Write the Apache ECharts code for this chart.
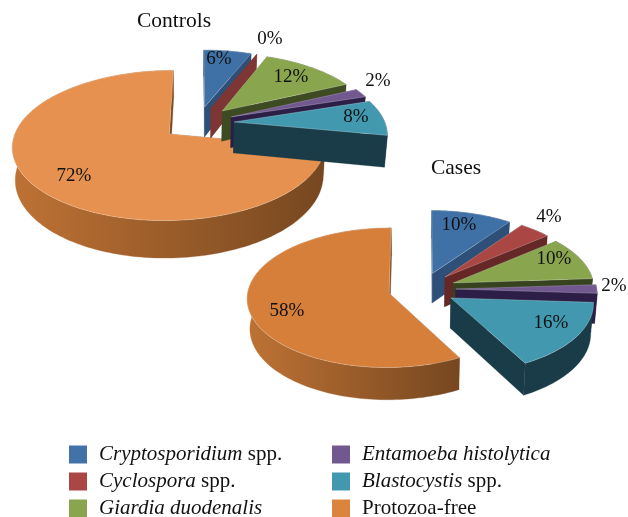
<!DOCTYPE html>
<html>
<head>
<meta charset="utf-8">
<style>
  html, body { margin: 0; padding: 0; background: #fff; }
  #chart { width: 628px; height: 517px; }
</style>
<script src="https://cdn.jsdelivr.net/npm/echarts@6/dist/echarts.min.js"></script>
</head>
<body>
<div id="chart"></div>
<script>
const speciesNames = ['Cryptosporidium spp.', 'Cyclospora spp.', 'Giardia duodenalis', 'Entamoeba histolytica', 'Blastocystis spp.', 'Protozoa-free'];
const pieNames = ['Controls', 'Cases'];
const controlsValues = [6, 0, 12, 2, 8, 72];
const casesValues = [10, 4, 10, 2, 16, 58];
const pieValues = [controlsValues, casesValues];

const legendColors = ['#4272a8', '#aa4644', '#89a54e', '#71588f', '#4198af', '#db843d'];
const topColors = [
  ['#3f71a6', '#aa4644', '#89a54e', '#71588f', '#4198af', '#e6914f'],
  ['#3f71a6', '#aa4644', '#89a54e', '#71588f', '#4198af', '#d67f3a'],
];
const sideColors = [
  ['#2d4f78', '#7e3634', '#3e4b22', '#2c1e47', '#1a3c48', '#7a4a20'],
  ['#2d4f78', '#662826', '#37431f', '#2c1e47', '#1a3c48', '#7a4a20'],
];

// projection of each pie: centre, radii, depth perspective, thickness, explosion
const pieShapes = [
  { cx: 198, cy: 123, rx: 151, ry: 70, k: 0.15, h: 31, e: 0.24 },
  { cx: 422, cy: 289, rx: 141, ry: 69, k: 0.065, h: 30, e: 0.24 },
];
const labelSpots = [
  [[219, 59], [270, 39], [291, 77], [378, 81], [356, 117], [74, 176]],
  [[459, 225], [549, 217], [554, 259], [614, 286], [551, 323], [287, 311]],
];
const titleSpots = [[174, 21], [456, 168]];

const serif = '"Liberation Serif", serif';
const deg = Math.PI / 180;

function project(s, x, y, z) {
  const w = 1 + s.k * y;
  const shrink = 1 - 0.016 * z;
  return [s.cx + s.rx * x * shrink / w, s.cy + (-s.ry * y + s.h * z) / w];
}

function sliceRange(values, i) {
  const total = values.reduce((a, b) => a + b, 0);
  const before = values.slice(0, i).reduce((a, b) => a + b, 0);
  return [before / total * 360, (before + values[i]) / total * 360];
}

function renderSlice(params) {
  const pie = params.dataIndex;
  const i = params.seriesIndex;
  const s = pieShapes[pie];
  const range = sliceRange(pieValues[pie], i);
  const mid = (range[0] + range[1]) / 2 * deg;
  const ox = s.e * Math.sin(mid);
  const oy = s.e * Math.cos(mid);

  const rim = (a, z) => project(s, ox + Math.sin(a * deg), oy + Math.cos(a * deg), z);
  const apex = (z) => project(s, ox, oy, z);
  const angles = [];
  for (let a = range[0]; a < range[1]; a += 1.5) angles.push(a);
  angles.push(range[1]);

  const side = sideColors[pie][i];
  const children = [];
  const addPoly = (points, fill, stroke, lineWidth) => children.push({
    type: 'polygon',
    shape: { points },
    style: { fill, stroke: stroke || fill, lineWidth: lineWidth || 0.3 },
    silent: true,
  });

  // radial walls first, then the outer wall, the top goes last
  addPoly([apex(0), rim(range[0], 0), rim(range[0], 1), apex(1)], side);
  addPoly([apex(0), rim(range[1], 0), rim(range[1], 1), apex(1)], side);

  if (pieValues[pie][i] > 0) {
    const wall = angles.map((a) => rim(a, 0)).concat(angles.slice().reverse().map((a) => rim(a, 1)));
    const wallFill = i === 5
      ? new echarts.graphic.LinearGradient(0, 0, 1, 0, [
          { offset: 0, color: '#be7234' },
          { offset: 1, color: '#764720' },
        ])
      : side;
    addPoly(wall, wallFill);
    addPoly([apex(0)].concat(angles.map((a) => rim(a, 0))), topColors[pie][i], 'rgba(255,255,255,0.35)', 0.7);
  }

  const spot = labelSpots[pie][i];
  children.push({
    type: 'text',
    x: spot[0],
    y: spot[1],
    style: {
      text: pieValues[pie][i] + '%',
      font: '19px ' + serif,
      fill: '#111',
      align: 'center',
      verticalAlign: 'middle',
    },
    silent: true,
  });
  return { type: 'group', children };
}

const legendText = (name) => {
  if (name === 'Protozoa-free') return name;
  const m = name.match(/^(.*) spp\.$/);
  return m ? '{i|' + m[1] + '} spp.' : '{i|' + name + '}';
};

const legendBase = {
  orient: 'vertical',
  top: 444,
  height: 90,
  icon: 'rect',
  itemWidth: 18,
  itemHeight: 18,
  itemGap: 6,
  padding: 0,
  selectedMode: false,
  formatter: legendText,
  textStyle: {
    fontFamily: serif,
    fontSize: 21,
    lineHeight: 18,
    color: '#111',
    padding: [0, 0, 0, 7],
    rich: { i: { fontFamily: serif, fontSize: 21, lineHeight: 18, fontStyle: 'italic', color: '#111' } },
  },
};

const chart = echarts.init(document.getElementById('chart'), null, { renderer: 'canvas' });
chart.setOption({
  animation: false,
  backgroundColor: '#fff',
  legend: [
    { ...legendBase, left: 69, data: speciesNames.slice(0, 3) },
    { ...legendBase, left: 332, data: speciesNames.slice(3) },
  ],
  graphic: pieNames.map((name, p) => ({
    type: 'text',
    x: titleSpots[p][0],
    y: titleSpots[p][1],
    style: { text: name, font: '21.5px ' + serif, fill: '#111', align: 'center', verticalAlign: 'middle' },
  })),
  series: speciesNames.map((name, i) => ({
    type: 'custom',
    name,
    coordinateSystem: 'none',
    z: i === 5 ? 1 : 2,
    itemStyle: { color: legendColors[i] },
    renderItem: renderSlice,
    data: pieValues.map((values) => values[i]),
  })),
});
</script>
</body>
</html>
